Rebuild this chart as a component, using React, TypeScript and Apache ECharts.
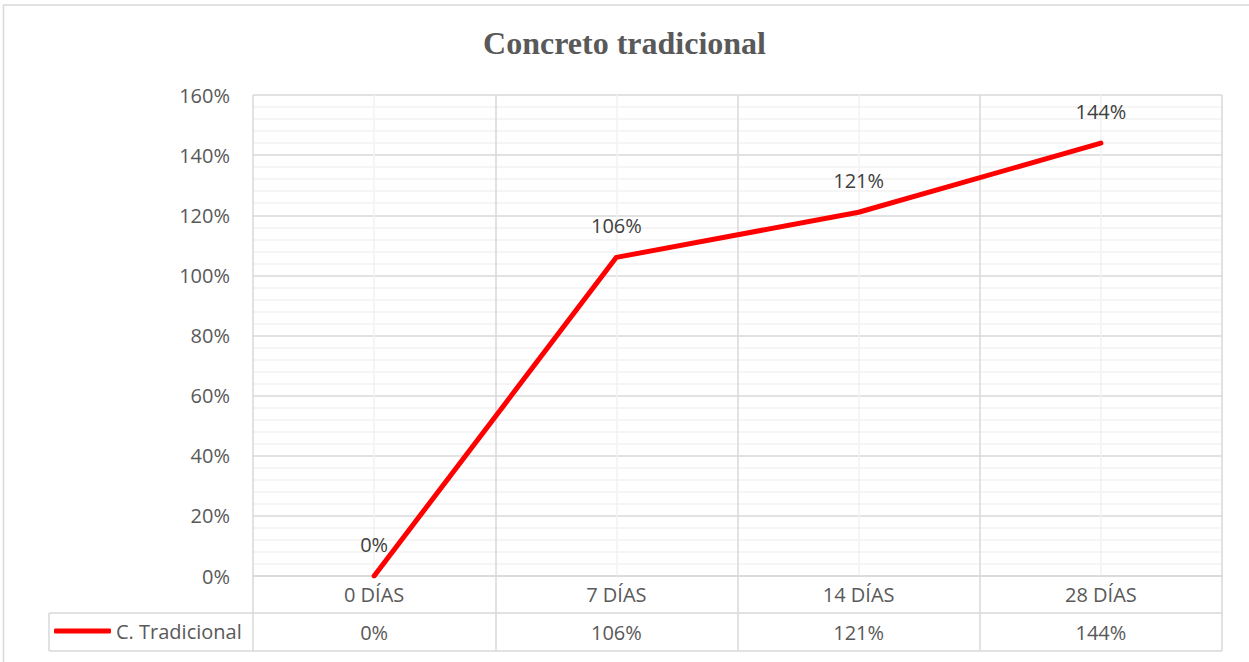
import React, { useEffect, useRef } from "react";
import * as echarts from "echarts";

// Compressive strength development, percent of design strength
const categories = ["0 DÍAS", "7 DÍAS", "14 DÍAS", "28 DÍAS"];
const seriesName = "C. Tradicional";
const values = [0, 106, 121, 144];
const yTicks = { min: 0, max: 160, step: 20 };

const FONT = "'Open Sans', sans-serif";
const GRID = "#d9d9d9";
const GRID_MINOR = "#f2f2f2";
const TEXT = "#595959";
const RED = "#ff0000";

export default function App() {
  const ref = useRef<HTMLDivElement>(null);

  useEffect(() => {
    if (!ref.current) return;
    const chart = echarts.init(ref.current, undefined, { renderer: "svg" });
    const plotLeft = 253;
    const plotRight = 1222;
    chart.setOption({
      animation: false,
      backgroundColor: "#ffffff",
      title: {
        text: "Concreto tradicional",
        left: "center",
        top: 22,
        textStyle: {
          fontFamily: "'Liberation Serif', 'Times New Roman', serif",
          fontWeight: "bold",
          fontSize: 32,
          color: TEXT,
        },
      },
      legend: {
        left: 54,
        top: 621,
        padding: 0,
        icon: "roundRect",
        itemWidth: 57,
        itemHeight: 5,
        itemGap: 0,
        itemStyle: { color: RED, opacity: 1 },
        textStyle: { fontFamily: FONT, fontSize: 20, color: TEXT },
        data: [seriesName],
      },
      grid: { left: plotLeft, right: 1249 - plotRight, top: 95, bottom: 662 - 576 },
      xAxis: [
        {
          type: "category",
          data: categories,
          boundaryGap: true,
          axisLine: { show: true, lineStyle: { color: GRID, width: 1.5 } },
          axisTick: { show: true, length: 75, lineStyle: { color: GRID, width: 1.5 } },
          axisLabel: { fontFamily: FONT, fontSize: 20, color: TEXT, margin: 8 },
          splitLine: { show: false },
        },
        {
          // vertical gridlines: boundaries (dark) and category centres (light)
          type: "value",
          min: 0,
          max: categories.length * 2,
          interval: 1,
          position: "top",
          axisLine: { show: false },
          axisTick: { show: false },
          axisLabel: { show: false },
          splitLine: { show: true, lineStyle: { color: [GRID, GRID_MINOR], width: 1.5 } },
        },
        {
          // data table row under the axis
          type: "category",
          data: values.map((v) => `${v}%`),
          position: "bottom",
          offset: 38,
          axisLine: { show: false },
          axisTick: { show: false },
          axisLabel: { fontFamily: FONT, fontSize: 20, color: TEXT, margin: 8 },
          splitLine: { show: false },
        },
      ],
      yAxis: {
        type: "value",
        min: yTicks.min,
        max: yTicks.max,
        interval: yTicks.step,
        axisLine: { show: false },
        axisTick: { show: false },
        axisLabel: { fontFamily: FONT, fontSize: 20, color: TEXT, margin: 23, formatter: "{value}%" },
        splitLine: { lineStyle: { color: GRID, width: 1.5 } },
        minorTick: { show: false, splitNumber: 5 },
        minorSplitLine: { show: true, lineStyle: { color: GRID_MINOR, width: 1.5 } },
      },
      series: [
        {
          name: seriesName,
          type: "line",
          xAxisIndex: 0,
          data: values,
          symbol: "circle",
          symbolSize: 2,
          showSymbol: true,
          itemStyle: { color: RED },
          color: RED,
          lineStyle: { color: RED, width: 5, cap: "round", join: "round" },
          label: {
            show: true,
            position: "top",
            distance: 21,
            fontFamily: FONT,
            fontSize: 20,
            color: "#404040",
            formatter: (p: any) => `${p.value}%`,
          },
        },
      ],
      graphic: [
        {
          type: "rect",
          shape: { x: 3.5, y: 5, width: 1300, height: 700 },
          style: { fill: "none", stroke: GRID, lineWidth: 1.5 },
          silent: true,
        },
        {
          type: "line",
          shape: { x1: 49, y1: 613, x2: plotRight, y2: 613 },
          style: { stroke: GRID, lineWidth: 1.5 },
          silent: true,
        },
        {
          type: "line",
          shape: { x1: 49, y1: 651, x2: plotRight, y2: 651 },
          style: { stroke: GRID, lineWidth: 1.5 },
          silent: true,
        },
        {
          type: "line",
          shape: { x1: 49, y1: 613, x2: 49, y2: 651 },
          style: { stroke: GRID, lineWidth: 1.5 },
          silent: true,
        },
      ],
    });
    return () => chart.dispose();
  }, []);

  return (
    <div
      ref={ref}
      style={{ position: "absolute", left: 0, top: 0, width: 1249, height: 662 }}
    />
  );
}
